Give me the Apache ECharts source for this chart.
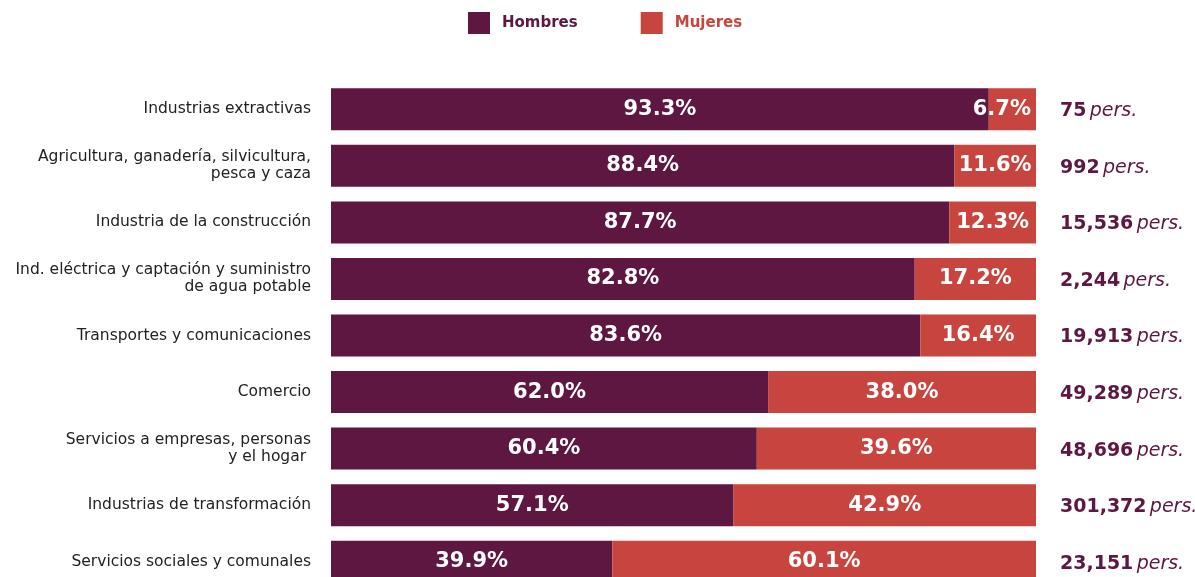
<!DOCTYPE html>
<html>
<head>
<meta charset="utf-8">
<script src="https://cdn.jsdelivr.net/npm/echarts@6/dist/echarts.min.js"></script>
<style>
  html, body { margin: 0; padding: 0; background: #fff; }
  #chart { width: 1195px; height: 577px; }
</style>
</head>
<body>
<div id="chart"></div>
<script>
var categories = [
    'Industrias extractivas',
    'Agricultura, ganadería, silvicultura,\npesca y caza',
    'Industria de la construcción',
    'Ind. eléctrica y captación y suministro\nde agua potable',
    'Transportes y comunicaciones',
    'Comercio',
    'Servicios a empresas, personas\ny el hogar ',
    'Industrias de transformación',
    'Servicios sociales y comunales'
];
var hombres = [93.3, 88.4, 87.7, 82.8, 83.6, 62.0, 60.4, 57.1, 39.9];
var mujeres = [6.7, 11.6, 12.3, 17.2, 16.4, 38.0, 39.6, 42.9, 60.1];
var totales = ['75', '992', '15,536', '2,244', '19,913', '49,289', '48,696', '301,372', '23,151'];

var colorH = '#5d1741';
var colorM = '#c8453f';

var chart = echarts.init(document.getElementById('chart'));

var pctLabel = {
    show: true,
    position: 'inside',
    color: '#fff',
    fontFamily: 'DejaVu Sans',
    fontSize: 21,
    fontWeight: 'bold',
    formatter: function (p) {
        return p.value.toFixed(1) + '%';
    }
};

// barras muy cortas: etiqueta pegada al borde derecho
var mujeresData = mujeres.map(function (v) {
    if (v < 10) {
        return {value: v, label: {position: 'insideRight', distance: 5}};
    }
    return v;
});

var option = {
    animation: false,
    legend: {
        top: 7,
        left: 463,
        itemWidth: 22,
        itemHeight: 22,
        itemGap: 63,
        icon: 'rect',
        textStyle: {
            fontFamily: 'DejaVu Sans',
            fontSize: 15,
            fontWeight: 'bold',
            padding: [0, 0, 0, 7]
        },
        data: [
            {name: 'Hombres', textStyle: {color: colorH}},
            {name: 'Mujeres', textStyle: {color: colorM}}
        ]
    },
    grid: {
        left: 331,
        right: 159,
        top: 81,
        height: 509,
        outerBoundsMode: 'none'
    },
    xAxis: {
        type: 'value',
        min: 0,
        max: 100,
        show: false
    },
    yAxis: {
        type: 'category',
        inverse: true,
        data: categories,
        axisLine: {show: false},
        axisTick: {show: false},
        axisLabel: {
            margin: 20,
            color: '#222',
            fontFamily: 'DejaVu Sans',
            fontSize: 15.5,
            lineHeight: 17,
            align: 'right',
            padding: [3, 0, 0, 0]
        }
    },
    series: [
        {
            name: 'Hombres',
            type: 'bar',
            stack: 'total',
            barWidth: 42,
            itemStyle: {color: colorH},
            label: pctLabel,
            data: hombres
        },
        {
            name: 'Mujeres',
            type: 'bar',
            stack: 'total',
            barWidth: 42,
            itemStyle: {color: colorM},
            label: pctLabel,
            data: mujeresData
        },
        {
            // totales a la derecha de cada barra
            name: 'Total',
            type: 'bar',
            stack: 'total',
            barWidth: 42,
            silent: true,
            itemStyle: {color: 'transparent'},
            label: {
                show: true,
                position: 'insideLeft',
                distance: 0,
                offset: [24, 2],
                formatter: function (p) {
                    return '{b|' + totales[p.dataIndex] + '} {i|pers.}';
                },
                rich: {
                    b: {
                        color: colorH,
                        fontFamily: 'DejaVu Sans',
                        fontSize: 19,
                        fontWeight: 'bold'
                    },
                    i: {
                        color: colorH,
                        fontFamily: 'DejaVu Sans',
                        fontSize: 19,
                        fontStyle: 'italic'
                    }
                }
            },
            data: categories.map(function () { return 0.001; })
        }
    ]
};

chart.setOption(option);
</script>
</body>
</html>
